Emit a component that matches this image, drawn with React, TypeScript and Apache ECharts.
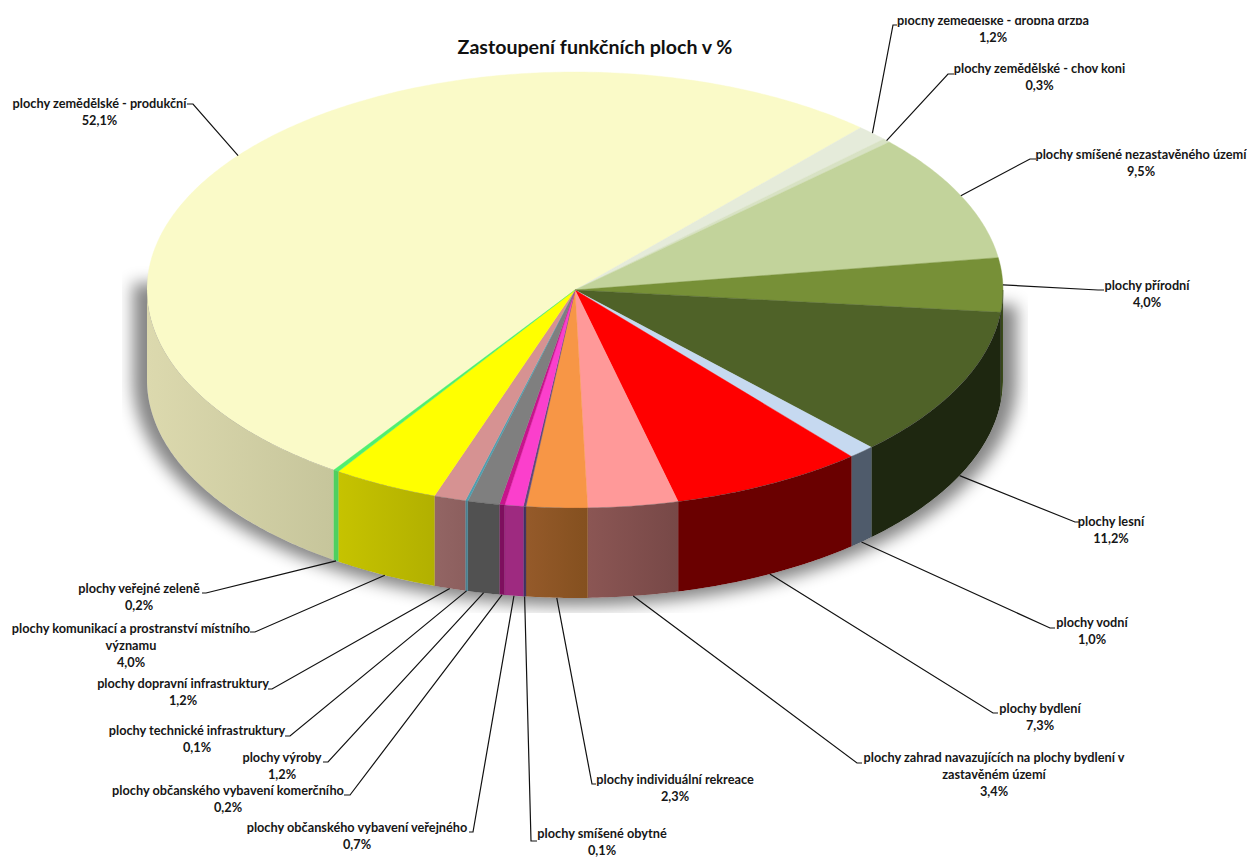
import React, { useEffect, useRef } from "react";
import * as echarts from "echarts";

const chartTitle = "Zastoupení funkčních ploch v %";

const categories = [
  "plochy zemědělské - produkční",
  "plochy zemědělské - drobná držba",
  "plochy zemědělské - chov koni",
  "plochy smíšené nezastavěného území",
  "plochy přírodní",
  "plochy lesní",
  "plochy vodní",
  "plochy bydlení",
  "plochy zahrad navazujících na plochy bydlení v\nzastavěném území",
  "plochy individuální rekreace",
  "plochy smíšené obytné",
  "plochy občanského vybavení veřejného",
  "plochy občanského vybavení komerčního",
  "plochy výroby",
  "plochy technické infrastruktury",
  "plochy dopravní infrastruktury",
  "plochy komunikací a prostranství místního\nvýznamu",
  "plochy veřejné zeleně",
];

const shares = [52.1, 1.2, 0.3, 9.5, 4.0, 11.2, 1.0, 7.3, 3.4, 2.3, 0.1, 0.7, 0.2, 1.2, 0.1, 1.2, 4.0, 0.2];

const topColors = [
  "#fafac8", "#e5ebda", "#d8e2c4", "#c2d39b", "#779037", "#4f6228", "#c6d9f0", "#ff0000", "#ff9999",
  "#f79646", "#5f497a", "#fb3fcc", "#c8148c", "#7f7f7f", "#4f9fb0", "#d69292", "#ffff00", "#50ef70",
];

// wall colours: [left, right] of a horizontal gradient
const wallColors: [string, string][] = [
  ["#dcd9ae", "#c6c59b"], ["#a0a498", "#a0a498"], ["#98a088", "#98a088"], ["#88946c", "#88946c"],
  ["#3a4a1a", "#3a4a1a"], ["#1e2710", "#1e2710"], ["#4f5b6b", "#4f5b6b"], ["#6a0000", "#6a0000"],
  ["#8b5654", "#774847"], ["#955a2a", "#84501f"], ["#3e3060", "#3e3060"], ["#9e2a80", "#9e2a80"],
  ["#7e0f5e", "#7e0f5e"], ["#515151", "#515151"], ["#4a8090", "#4a8090"], ["#936564", "#8c5f5e"],
  ["#c6c300", "#b2b000"], ["#4fd060", "#4fd060"],
];

// label layout: centre x, first-line y, leader elbow x, elbow y, leader end x
const labelLayout: [number, number, number, number, number][] = [
  [99.5, 103, 193, 104, 187],
  [993, 20, 893, 25, 897],
  [1039.5, 68, 948, 74, 954],
  [1141, 154, 1030, 159, 1036],
  [1147, 285, 1098, 290, 1104],
  [1111, 521, 1075, 522, 1080],
  [1092, 622, 1050, 628, 1055],
  [1040, 708, 993, 713, 998],
  [994, 757, 857, 763, 862],
  [675, 779, 592, 784, 596],
  [602, 832.5, 531, 841, 537],
  [357, 827, 473, 832, 469],
  [228, 790, 350, 795, 344],
  [282, 757, 328, 762, 323],
  [197, 730, 290, 736, 285],
  [183, 683, 272, 689, 268],
  [131, 628, 255, 632, 250],
  [139, 588, 206, 593, 202],
];

const W = 1247;
const H = 858;
const CX = 575;
const CY = 290;
const RX = 428;
const RY = 218;
const DEPTH = 90;
const START_ANGLE = 214.3;
const TEXT_SCALE = 0.91;
const SHADOW_LEFT = 122;
const SHADOW_RIGHT = 1028;
const SHADOW_BOTTOM = 613;
const SHADOW_GROW_X = 14;
const SHADOW_GROW_Y = 8;
const SHADOW_OFFSET = 3000;

const total = shares.reduce((a, b) => a + b, 0);
const startAngles: number[] = [];
shares.reduce((acc, v) => {
  startAngles.push(acc);
  return acc + (v / total) * 360;
}, START_ANGLE);

const rim = (deg: number, dy = 0): [number, number] => {
  const t = (deg * Math.PI) / 180;
  return [CX + RX * Math.sin(t), CY - RY * Math.cos(t) + dy];
};

const arc = (from: number, to: number, dy = 0): [number, number][] => {
  const steps = Math.max(2, Math.ceil((to - from) * 1.5));
  const pts: [number, number][] = [];
  for (let i = 0; i <= steps; i++) pts.push(rim(from + ((to - from) * i) / steps, dy));
  return pts;
};

const inFront = (deg: number) => {
  const d = ((deg % 360) + 360) % 360;
  return d >= 90 && d <= 270;
};

const wallRange = (a: number, b: number): [number, number] | null => {
  for (const k of [0, 360, -360]) {
    const s = Math.max(a + k, 90);
    const e = Math.min(b + k, 270);
    if (e > s) return [s, e];
  }
  return null;
};

// the soft drop shadow around the disc: a blurred shadow of an off-canvas shape,
// with the disc and its wall punched out so the image can lie above them
const makeShadowImage = (): string => {
  const canvas = document.createElement("canvas");
  canvas.width = W;
  canvas.height = H;
  const ctx = canvas.getContext("2d")!;
  ctx.beginPath();
  ctx.rect(SHADOW_LEFT, 200, SHADOW_RIGHT - SHADOW_LEFT, SHADOW_BOTTOM - 200);
  ctx.clip();
  ctx.shadowColor = "#868686";
  ctx.shadowBlur = 16;
  ctx.shadowOffsetX = SHADOW_OFFSET;
  ctx.fillStyle = "#000";
  ctx.beginPath();
  const pts: [number, number][] = [];
  for (let d = 90; d <= 270; d++) {
    const t = (d * Math.PI) / 180;
    pts.push([CX + (RX + SHADOW_GROW_X) * Math.sin(t), CY + DEPTH - (RY + SHADOW_GROW_Y) * Math.cos(t)]);
  }
  pts.push([CX - RX - SHADOW_GROW_X, 283], [CX + RX + SHADOW_GROW_X, 305]);
  pts.forEach(([x, y], i) => (i ? ctx.lineTo(x - SHADOW_OFFSET, y) : ctx.moveTo(x - SHADOW_OFFSET, y)));
  ctx.closePath();
  ctx.fill();

  ctx.shadowColor = "transparent";
  ctx.shadowBlur = 0;
  ctx.shadowOffsetX = 0;
  ctx.globalCompositeOperation = "destination-out";
  ctx.fillStyle = "#000";
  const punch = (poly: [number, number][]) => {
    ctx.beginPath();
    poly.forEach(([x, y], i) => (i ? ctx.lineTo(x, y) : ctx.moveTo(x, y)));
    ctx.closePath();
    ctx.fill();
  };
  punch(arc(0, 360));
  punch([...arc(90, 270), ...arc(90, 270, DEPTH).reverse()]);
  return canvas.toDataURL("image/png");
};

const renderSlice = (params: any, api: any) => {
  const i = params.dataIndex;
  const sweep = (api.value(0) / total) * 360;
  const a = startAngles[i];
  const b = a + sweep;
  const children: any[] = [
    {
      type: "polygon",
      shape: { points: [[CX, CY], ...arc(a, b)] },
      style: { fill: topColors[i], stroke: topColors[i], lineWidth: 0.4 },
    },
  ];
  const w = wallRange(a, b);
  if (w) {
    const top = arc(w[0], w[1]);
    const bottom = arc(w[0], w[1], DEPTH).reverse();
    const [c0, c1] = wallColors[i];
    const fill = new echarts.graphic.LinearGradient(0, 0, 1, 0, [
      { offset: 0, color: c0 },
      { offset: 1, color: c1 },
    ]);
    children.push({
      type: "polygon",
      shape: { points: [...top, ...bottom] },
      style: { fill, stroke: c0, lineWidth: 0.3 },
    });
  }
  return { type: "group", children };
};

const renderLabel = (params: any, api: any) => {
  const i = params.dataIndex;
  const v = api.value(0);
  const mid = startAngles[i] + ((v / total) * 360) / 2;
  const start = rim(mid, inFront(mid) ? DEPTH : 0);
  const [tx, ty, ex, ey, endX] = labelLayout[i];
  const text = `${categories[i]}\n${v.toFixed(1).replace(".", ",")}%`;
  return {
    type: "group",
    children: [
      {
        type: "polyline",
        shape: { points: [start, [ex, ey], [endX, ey]] },
        style: { fill: "none", stroke: "#111111", lineWidth: 1.2 },
      },
      {
        type: "text",
        x: tx,
        y: ty - 8.5,
        scaleX: TEXT_SCALE,
        style: {
          x: 0,
          y: 0,
          text,
          align: "center",
          verticalAlign: "top",
          fontFamily: "Lato",
          fontWeight: "bold",
          fontSize: 14,
          lineHeight: 17,
          fill: "#161616",
        },
      },
    ],
  };
};

export default function App() {
  const ref = useRef<HTMLDivElement>(null);
  useEffect(() => {
    const chart = echarts.init(ref.current!, undefined, { renderer: "svg" });
    const data = shares.map((v) => [v]);
    chart.setOption({
      animation: false,
      backgroundColor: "#ffffff",
      title: {
        text: chartTitle,
        left: 590,
        top: 31,
        textAlign: "center",
        textStyle: { fontFamily: "Lato", fontWeight: "bold", fontSize: 19.6, color: "#111111" },
      },
      graphic: [
        { type: "image", z: 5, silent: true, style: { image: makeShadowImage(), x: 0, y: 0, width: W, height: H } },
        { type: "rect", z: 100, silent: true, shape: { x: 0, y: 0, width: W, height: 18 }, style: { fill: "#ffffff" } },
      ],
      series: [
        { type: "custom", coordinateSystem: "none", z: 2, silent: true, data, renderItem: renderSlice },
        { type: "custom", coordinateSystem: "none", z: 6, silent: true, data, renderItem: renderLabel },
      ],
    });
    return () => chart.dispose();
  }, []);
  return <div ref={ref} style={{ position: "fixed", left: 0, top: 0, width: W, height: H }} />;
}
